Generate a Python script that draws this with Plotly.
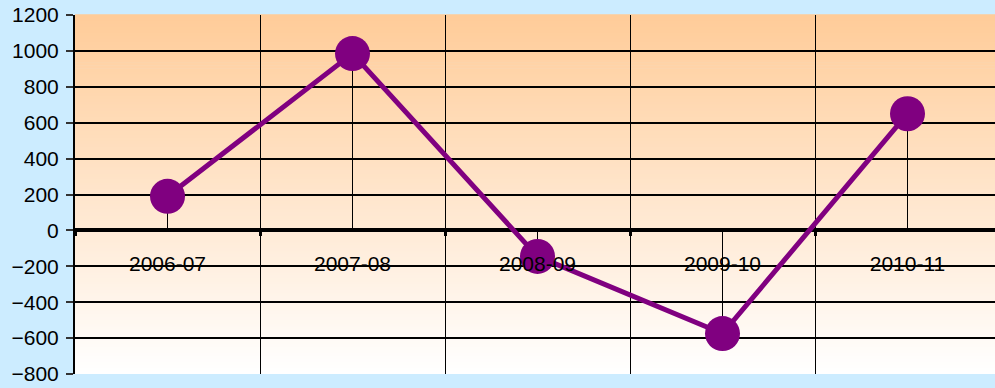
import plotly.graph_objects as go

# Year-on-year change by financial year
years = ["2006-07", "2007-08", "2008-09", "2009-10", "2010-11"]
change = [190, 985, -145, -575, 650]

y_ticks = [-800, -600, -400, -200, 0, 200, 400, 600, 800, 1000, 1200]

PURPLE = "#800080"
TOP_COLOR = (255, 204, 153)
BOTTOM_COLOR = (255, 255, 255)

fig = go.Figure()

# Series line with markers; thin drop lines run from each point to zero
fig.add_trace(go.Scatter(
    x=years,
    y=change,
    mode="lines+markers",
    line=dict(color=PURPLE, width=5),
    marker=dict(color=PURPLE, size=35, line=dict(width=0)),
    error_y=dict(
        type="data",
        symmetric=False,
        array=[max(0, -v) for v in change],
        arrayminus=[max(0, v) for v in change],
        color="black",
        thickness=1,
        width=0,
    ),
    hoverinfo="x+y",
    showlegend=False,
))

# Vertical peach-to-white gradient behind the plot area
n_strips = 120
shapes = []
for i in range(n_strips):
    t = i / (n_strips - 1)  # 0 at bottom, 1 at top
    r = round(BOTTOM_COLOR[0] + (TOP_COLOR[0] - BOTTOM_COLOR[0]) * t)
    g = round(BOTTOM_COLOR[1] + (TOP_COLOR[1] - BOTTOM_COLOR[1]) * t)
    b = round(BOTTOM_COLOR[2] + (TOP_COLOR[2] - BOTTOM_COLOR[2]) * t)
    shapes.append(dict(
        type="rect", xref="x domain", yref="y domain",
        x0=0, x1=1, y0=i / n_strips, y1=(i + 1) / n_strips + 0.002,
        fillcolor=f"rgb({r},{g},{b})", line=dict(width=0), layer="below",
    ))

font = dict(family="Liberation Sans, Arial, sans-serif", size=21, color="black")

fig.update_layout(
    width=995,
    height=388,
    margin=dict(l=75, r=0, t=15, b=14),
    paper_bgcolor="#CCECFF",
    plot_bgcolor="rgba(0,0,0,0)",
    shapes=shapes,
    font=font,
    xaxis=dict(
        type="category",
        categoryorder="array",
        categoryarray=years,
        range=[-0.5, 4.5 - 5 / 185],
        tickson="boundaries",
        showgrid=True,
        gridcolor="black",
        gridwidth=1,
        showline=False,
        zeroline=False,
        ticks="outside",
        ticklen=5,
        tickwidth=3,
        tickcolor="black",
        anchor="free",
        position=0.4,
        ticklabelstandoff=19,
        tickfont=font,
    ),
    yaxis=dict(
        range=[-800, 1200],
        tickvals=y_ticks,
        showgrid=True,
        gridcolor="black",
        gridwidth=2,
        zeroline=True,
        zerolinecolor="black",
        zerolinewidth=4,
        showline=True,
        linecolor="black",
        linewidth=2,
        ticks="outside",
        ticklen=7,
        tickwidth=2,
        tickcolor="#333333",
        ticklabelstandoff=3,
        tickfont=font,
    ),
)

fig.write_html("out.html")
